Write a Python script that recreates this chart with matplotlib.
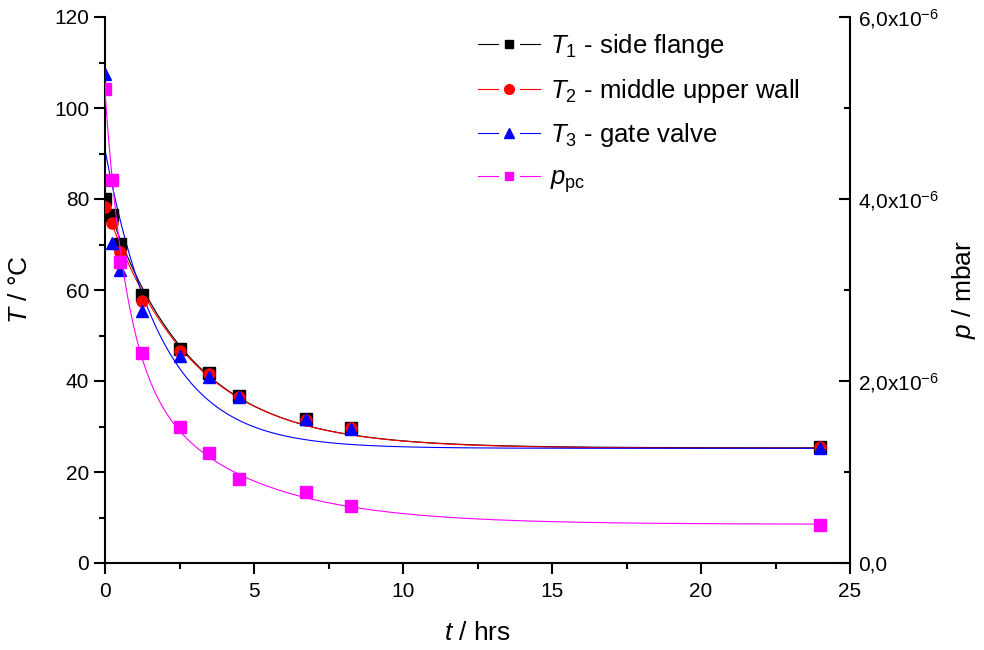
import numpy as np
import matplotlib
matplotlib.use('Agg')
import matplotlib.pyplot as plt
from matplotlib.ticker import MultipleLocator, FixedLocator
from matplotlib.lines import Line2D
from matplotlib.legend_handler import HandlerBase

plt.rcParams['font.family'] = ['Liberation Sans', 'DejaVu Sans']
plt.rcParams['mathtext.fontset'] = 'custom'
plt.rcParams['mathtext.rm'] = 'Liberation Sans'
plt.rcParams['mathtext.it'] = 'Liberation Sans:italic'

# measured values: time in hours
t_hrs = [0, 0.25, 0.5, 1.25, 2.5, 3.5, 4.5, 6.75, 8.25, 24]
T1 = [80.0, 76.5, 70.1, 58.9, 47.0, 41.8, 36.7, 31.6, 29.7, 25.6]
T2 = [78.2, 74.7, 68.4, 57.6, 46.6, 41.5, 36.5, 31.5, 29.6, 25.5]
T3 = [107.5, 70.3, 64.5, 55.4, 45.5, 40.9, 36.4, 31.6, 29.5, 25.3]
p_pc = [5.21e-6, 4.21e-6, 3.31e-6, 2.31e-6, 1.50e-6, 1.21e-6, 0.92e-6, 0.78e-6, 0.63e-6, 0.42e-6]

# exponential decay fits: y0, A, tau
fit_T1 = (25.3, 55.0, 2.8)
fit_T2 = (25.2, 53.5, 2.85)
fit_T3 = (25.2, 65.6, 1.9)
# second order decay for pressure: y0, A1, tau1, A2, tau2
fit_p = (0.425e-6, 2.85e-6, 0.7, 1.9e-6, 3.6)

labels = [r'$T_1$ - side flange', r'$T_2$ - middle upper wall',
          r'$T_3$ - gate valve', r'$p_\mathrm{pc}$']


def decay(x, y0, a, tau):
    return y0 + a * np.exp(-x / tau)


def decay2(x, y0, a1, t1, a2, t2):
    return y0 + a1 * np.exp(-x / t1) + a2 * np.exp(-x / t2)


class GapLineHandler(HandlerBase):
    # line - marker - line, with a small gap around the marker
    def create_artists(self, legend, orig, xd, yd, width, height, fontsize, trans):
        y = yd + height / 2
        gap = 0.18 * width
        c = orig.get_color()
        left = Line2D([xd, xd + width / 2 - gap], [y, y], color=c, lw=0.8)
        right = Line2D([xd + width / 2 + gap, xd + width], [y, y], color=c, lw=0.8)
        mark = Line2D([xd + width / 2], [y], color=c, marker=orig.get_marker(),
                      ms=orig.get_markersize(), ls='none')
        arts = [left, right, mark]
        for a in arts:
            a.set_transform(trans)
        return arts


fig = plt.figure(figsize=(9.84, 6.5), dpi=100)
ax = fig.add_axes([105 / 984, 87 / 650, 745 / 984, 546 / 650])
ax2 = ax.twinx()

xf = np.linspace(0, 24, 500)
ms = 8
ax.plot(t_hrs, T1, 's', color='black', ms=ms, zorder=3)
ax.plot(xf, decay(xf, *fit_T1), '-', color='black', lw=0.8, zorder=2)
ax.plot(t_hrs, T2, 'o', color='red', ms=ms, zorder=4)
ax.plot(xf, decay(xf, *fit_T2), '-', color='red', lw=0.8, zorder=2)
ax.plot(t_hrs, T3, '^', color='blue', ms=ms + 1, zorder=5)
ax.plot(xf, decay(xf, *fit_T3), '-', color='blue', lw=0.8, zorder=2)
ax2.plot(t_hrs, p_pc, 's', color='#ff00ff', ms=ms, zorder=3)
ax2.plot(xf, decay2(xf, *fit_p), '-', color='#ff00ff', lw=0.8, zorder=2)

ax.set_xlim(0, 25)
ax.set_ylim(0, 120)
ax2.set_ylim(0, 6e-6)

ax.xaxis.set_major_locator(MultipleLocator(5))
ax.xaxis.set_minor_locator(MultipleLocator(2.5))
ax.yaxis.set_major_locator(MultipleLocator(20))
ax.yaxis.set_minor_locator(MultipleLocator(10))
ax2.yaxis.set_major_locator(FixedLocator([0, 2e-6, 4e-6, 6e-6]))
ax2.yaxis.set_minor_locator(FixedLocator([1e-6, 3e-6, 5e-6]))
ax2.set_yticklabels(['0,0', r'2,0x10$^{-6}$', r'4,0x10$^{-6}$', r'6,0x10$^{-6}$'])

for a in (ax, ax2):
    a.spines['top'].set_visible(False)
    for s in a.spines.values():
        s.set_linewidth(1.5)
ax.spines['right'].set_visible(False)
ax2.spines['left'].set_visible(False)
ax2.spines['bottom'].set_visible(False)

ax.tick_params(which='major', direction='out', length=8, width=1.5, labelsize=15)
ax.tick_params(which='minor', direction='out', length=4.5, width=1.5)
ax.tick_params(axis='x', pad=6)
ax2.tick_params(which='major', direction='in', length=8, width=1.5, labelsize=15, pad=6)
ax2.tick_params(which='minor', direction='in', length=4.5, width=1.5)

ax.set_xlabel(r'$t$ / hrs', fontsize=19, labelpad=14)
ax.set_ylabel(r'$T$ / °C', fontsize=19, labelpad=16)
ax2.set_ylabel(r'$p$ / mbar', fontsize=19, labelpad=8)

handles = [Line2D([], [], color=c, marker=m, ms=ms_, lw=0.8)
           for c, m, ms_ in [('black', 's', 6), ('red', 'o', 7),
                             ('blue', '^', 7), ('#ff00ff', 's', 6)]]
ax2.legend(handles, labels, loc='upper left', bbox_to_anchor=(0.47, 1.015),
           frameon=False, fontsize=18.5, handlelength=2.4, handletextpad=0.4,
           labelspacing=0.65, handler_map={Line2D: GapLineHandler()})

fig.savefig('out.png', dpi=100)
